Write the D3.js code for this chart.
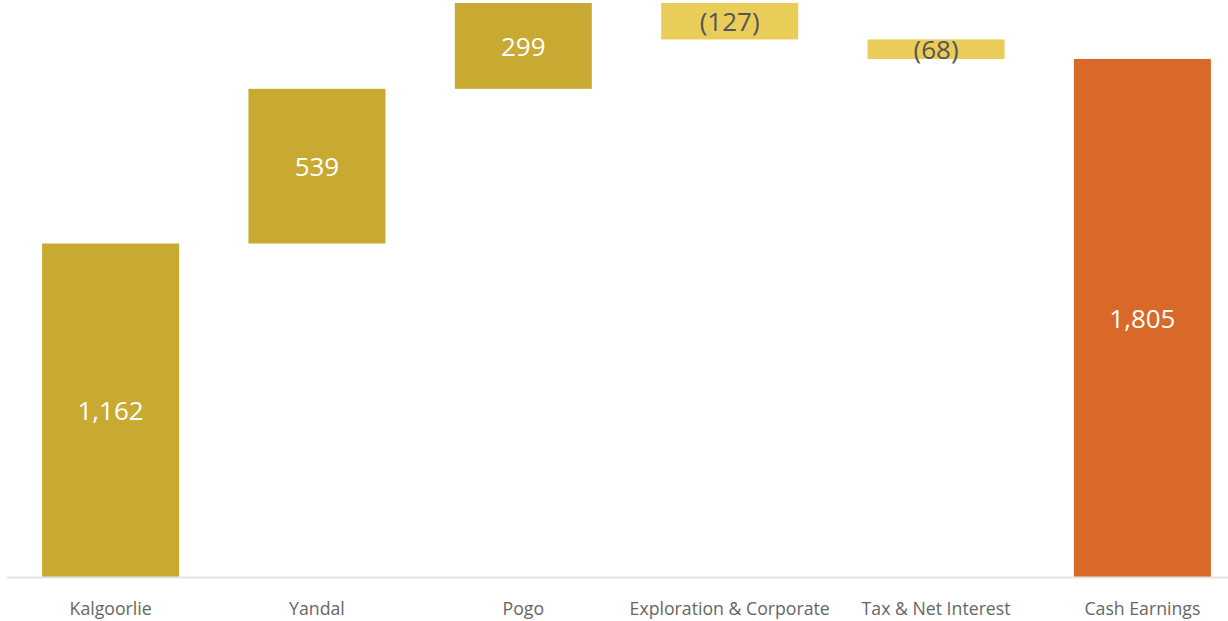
<!DOCTYPE html>
<html>
<head>
<meta charset="utf-8">
<script src="https://cdn.jsdelivr.net/npm/d3@7"></script>
<style>
  html, body { margin: 0; padding: 0; background: #ffffff; }
  svg { display: block; }
</style>
</head>
<body>
<svg id="chart" width="1228" height="621"></svg>
<script>
const categories = ["Kalgoorlie", "Yandal", "Pogo", "Exploration & Corporate", "Tax & Net Interest", "Cash Earnings"];
const values = [1162, 539, 299, -127, -68, 1805];
const kinds = ["increase", "increase", "increase", "decrease", "decrease", "total"];

const colors = { increase: "#C8AA32", decrease: "#E9CD58", total: "#D86928" };
const labelColors = { increase: "#ffffff", decrease: "#555555", total: "#ffffff" };

const svg = d3.select("#chart");
const baseY = 577;

const x = d3.scaleBand().domain(categories).range([7, 1246]).paddingInner(0.336).paddingOuter(0.17);
const y = d3.scaleLinear().domain([0, 2000]).range([baseY, 3]);

let running = 0;
const data = categories.map((c, i) => {
  let start, end;
  if (kinds[i] === "total") { start = 0; end = values[i]; running = values[i]; }
  else { start = running; end = running + values[i]; running = end; }
  return { cat: c, value: values[i], kind: kinds[i], lo: Math.min(start, end), hi: Math.max(start, end) };
});

const fmt = v => v < 0 ? "(" + d3.format(",")(-v) + ")" : d3.format(",")(v);

svg.append("g").selectAll("rect").data(data).join("rect")
  .attr("x", d => x(d.cat))
  .attr("width", x.bandwidth())
  .attr("y", d => y(d.hi))
  .attr("height", d => y(d.lo) - y(d.hi))
  .attr("fill", d => colors[d.kind]);

const axis = svg.append("g").attr("transform", `translate(0,${baseY})`)
  .call(d3.axisBottom(x).tickSize(0).tickPadding(25));
axis.select(".domain").remove();
axis.append("line").attr("x1", 7).attr("x2", 1228).attr("y1", 0.5).attr("y2", 0.5)
  .attr("stroke", "#e3e3e3").attr("stroke-width", 2);
axis.selectAll("text")
  .attr("font-family", "'Open Sans', 'Noto Sans', sans-serif")
  .attr("font-size", 17.7)
  .attr("fill", "#666666");

svg.append("g").selectAll("text").data(data).join("text")
  .attr("x", d => x(d.cat) + x.bandwidth() / 2)
  .attr("y", d => (y(d.hi) + y(d.lo)) / 2)
  .attr("dy", "0.38em")
  .attr("text-anchor", "middle")
  .attr("font-family", "'Open Sans', 'Noto Sans', sans-serif")
  .attr("font-size", 26)
  .attr("fill", d => labelColors[d.kind])
  .text(d => fmt(d.value));
</script>
</body>
</html>
